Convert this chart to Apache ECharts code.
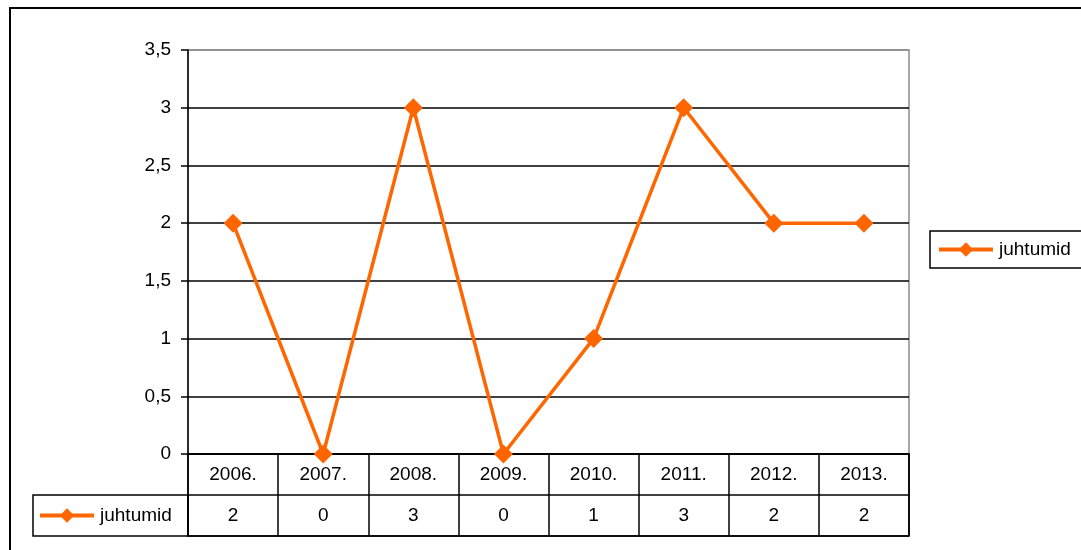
<!DOCTYPE html>
<html>
<head>
<meta charset="utf-8">
<script src="https://cdn.jsdelivr.net/npm/echarts@6/dist/echarts.min.js"></script>
<style>
html,body{margin:0;padding:0;background:#fff;}
#chart{width:1081px;height:550px;}
</style>
</head>
<body>
<div id="chart"></div>
<script>
const categories = ['2006.', '2007.', '2008.', '2009.', '2010.', '2011.', '2012.', '2013.'];
const seriesName = 'juhtumid';
const values = [2, 0, 3, 0, 1, 3, 2, 2];
const yTicks = { min: 0, max: 3.5, interval: 0.5 };

const ORANGE = '#FF6600';
const FONT = 'Liberation Sans, Arial, sans-serif';
const FS = 19;

const chart = echarts.init(document.getElementById('chart'), null, { renderer: 'canvas' });

const gridColors = ['#000', '#000', '#000', '#000', '#000', '#000', '#000', '#8c8c8c'];

const legendCommon = {
  data: [seriesName], orient: 'vertical',
  itemWidth: 54, itemHeight: 18, itemGap: 0,
  lineStyle: { width: 4, color: ORANGE },
  itemStyle: { color: ORANGE },
  textStyle: { fontSize: FS, fontFamily: FONT, color: '#000', padding: [0, 0, 0, 1] },
  selectedMode: false
};

const cellLabel = {
  show: true, position: 'inside', fontSize: FS, fontFamily: FONT,
  color: '#000', textBorderWidth: 0, textShadowBlur: 0, opacity: 1
};

const option = {
  backgroundColor: '#fff',
  animation: false,
  textStyle: { fontFamily: FONT, color: '#000' },
  grid: [
    { left: 188, top: 50, width: 721, height: 404, show: true, borderColor: '#8c8c8c', borderWidth: 1.5, backgroundColor: 'transparent' },
    { left: 188, top: 454, width: 721, height: 82, show: true, borderColor: '#000', borderWidth: 1.5, backgroundColor: 'transparent' }
  ],
  xAxis: [
    {
      gridIndex: 0, type: 'category', data: categories, boundaryGap: true,
      axisLine: { show: true, lineStyle: { color: '#000', width: 1.5 } },
      axisTick: { show: false }, axisLabel: { show: false }, splitLine: { show: false }
    },
    {
      gridIndex: 1, type: 'category', data: categories, boundaryGap: true,
      axisLine: { show: false }, axisTick: { show: false }, axisLabel: { show: false },
      splitLine: { show: true, lineStyle: { color: '#000', width: 1.5 } }
    }
  ],
  yAxis: [
    {
      gridIndex: 0, type: 'value', min: yTicks.min, max: yTicks.max, interval: yTicks.interval,
      axisLine: { show: true, lineStyle: { color: '#000', width: 1.5 } },
      axisTick: { show: true, length: 7, lineStyle: { color: '#000', width: 1.5 } },
      axisLabel: {
        margin: 17, fontSize: FS, fontFamily: FONT, color: '#000',
        formatter: v => String(v).replace('.', ',')
      },
      splitLine: { show: true, lineStyle: { color: gridColors, width: 1.5 } }
    },
    {
      gridIndex: 1, type: 'category', data: ['v', 'c'], boundaryGap: true,
      axisLine: { show: false }, axisTick: { show: false }, axisLabel: { show: false },
      splitLine: { show: true, lineStyle: { color: '#000', width: 1.5 } }
    }
  ],
  legend: [
    Object.assign({}, legendCommon, {
      left: 930, top: 231,
      borderColor: '#000', borderWidth: 1.5, padding: [9, 200, 9, 7]
    }),
    Object.assign({}, legendCommon, {
      left: 30, top: 506, borderWidth: 0, padding: [0, 0, 0, 8]
    })
  ],
  graphic: [
    { type: 'rect', shape: { x: 10, y: 8, width: 1200, height: 700 }, style: { fill: 'none', stroke: '#000', lineWidth: 2 }, silent: true, z: 0 },
    { type: 'rect', shape: { x: 33, y: 495, width: 155, height: 41 }, style: { fill: 'none', stroke: '#000', lineWidth: 1.5 }, silent: true, z: 10 }
  ],
  series: [
    {
      name: seriesName, type: 'line', xAxisIndex: 0, yAxisIndex: 0, data: values,
      color: ORANGE,
      lineStyle: { color: ORANGE, width: 3.5 },
      itemStyle: { color: ORANGE },
      symbol: 'diamond', symbolSize: 19, z: 5
    },
    {
      name: 'cats', type: 'scatter', xAxisIndex: 1, yAxisIndex: 1,
      data: categories.map(c => [c, 'c']),
      symbolSize: 0, itemStyle: { color: '#000' },
      label: Object.assign({}, cellLabel, { formatter: p => p.value[0] })
    },
    {
      name: 'vals', type: 'scatter', xAxisIndex: 1, yAxisIndex: 1,
      data: categories.map((c, i) => [c, 'v', values[i]]),
      symbolSize: 0, itemStyle: { color: '#000' },
      label: Object.assign({}, cellLabel, { formatter: p => String(p.value[2]) })
    }
  ]
};
chart.setOption(option);
</script>
</body>
</html>
